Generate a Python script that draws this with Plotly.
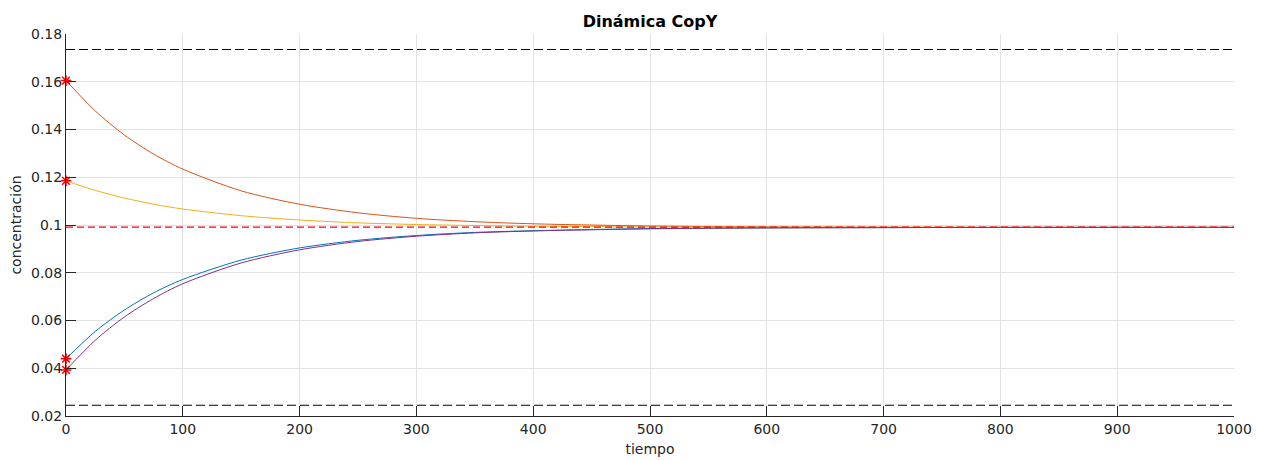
import plotly.graph_objects as go

# ---- data ----
tiempo = [0, 25, 50, 75, 100, 150, 200, 250, 300, 350, 400, 500, 600, 700, 800, 900, 1000]

serie_azul = [0.0440, 0.0554, 0.0644, 0.0716, 0.0772, 0.0853, 0.0904, 0.0936, 0.0956, 0.0969,
              0.0976, 0.0985, 0.0988, 0.0989, 0.0990, 0.0990, 0.0990]
serie_naranja = [0.1605, 0.1478, 0.1377, 0.1297, 0.1234, 0.1143, 0.1087, 0.1051, 0.1028, 0.1014,
                 0.1005, 0.0996, 0.0992, 0.0991, 0.0990, 0.0990, 0.0990]
serie_amarilla = [0.1185, 0.1145, 0.1113, 0.1087, 0.1067, 0.1039, 0.1021, 0.1009, 0.1002, 0.0998,
                  0.0995, 0.0992, 0.0991, 0.0990, 0.0990, 0.0990, 0.0990]
serie_morada = [0.0393, 0.0517, 0.0615, 0.0692, 0.0754, 0.0841, 0.0896, 0.0931, 0.0953, 0.0967,
                0.0975, 0.0984, 0.0988, 0.0989, 0.0990, 0.0990, 0.0990]

condiciones_iniciales = [0.0440, 0.1605, 0.1185, 0.0393]
t_inicial = [0, 0, 0, 0]

limite_superior = 0.1735
limite_inferior = 0.0245
equilibrio = 0.0991
t_rango = [0, 1000]

x_ticks = [0, 100, 200, 300, 400, 500, 600, 700, 800, 900, 1000]
y_ticks = [0.02, 0.04, 0.06, 0.08, 0.10, 0.12, 0.14, 0.16, 0.18]
y_ticktext = ["0.02", "0.04", "0.06", "0.08", "0.1", "0.12", "0.14", "0.16", "0.18"]

# ---- figure ----
FONT = "DejaVu Sans"
fig = go.Figure()

for vals, col in [(serie_azul, "#0072BD"), (serie_naranja, "#D95319"),
                  (serie_amarilla, "#EDB120"), (serie_morada, "#7E2F8E")]:
    fig.add_trace(go.Scatter(x=tiempo, y=vals, mode="lines",
                             line=dict(color=col, width=1, shape="spline", smoothing=0.8),
                             showlegend=False))

fig.add_trace(go.Scatter(x=t_inicial, y=condiciones_iniciales, mode="markers",
                         marker=dict(symbol="asterisk-open", size=9, color="red",
                                     line=dict(color="red", width=1.5)),
                         showlegend=False, cliponaxis=False))

for lvl, col in [(limite_superior, "black"), (limite_inferior, "black")]:
    fig.add_trace(go.Scatter(x=t_rango, y=[lvl, lvl], mode="lines",
                             line=dict(color=col, width=1, dash="9px,4px"),
                             showlegend=False))
fig.add_trace(go.Scatter(x=t_rango, y=[equilibrio, equilibrio], mode="lines",
                         line=dict(color="#FF0000", width=1.3, dash="7px,4px"),
                         showlegend=False))

axis_common = dict(
    showgrid=True, gridcolor="#E3E3E3", gridwidth=1,
    zeroline=False, showline=True, linecolor="#262626", linewidth=1,
    ticks="inside", ticklen=10, tickcolor="#262626", tickwidth=1,
    tickfont=dict(family=FONT, size=14, color="#262626"),
    automargin=False,
)

fig.update_layout(
    width=1261, height=460,
    margin=dict(l=66, r=27, t=34, b=44),
    paper_bgcolor="white", plot_bgcolor="white",
    font=dict(family=FONT, size=14, color="#262626"),
    title=dict(text="<b>Dinámica CopY</b>", x=(66 + 1234) / 2 / 1261, xanchor="center",
               y=1 - 21 / 460, yanchor="middle", yref="container",
               font=dict(family=FONT, size=16, color="black")),
    xaxis=dict(range=[0, 1000], tickvals=x_ticks,
               title=dict(text="tiempo", standoff=8, font=dict(family=FONT, size=14)),
               **axis_common),
    yaxis=dict(range=[0.02, 0.18], tickvals=y_ticks, ticktext=y_ticktext,
               title=dict(text="concentración", standoff=6, font=dict(family=FONT, size=14)),
               **axis_common),
)

fig.write_html("out.html")
